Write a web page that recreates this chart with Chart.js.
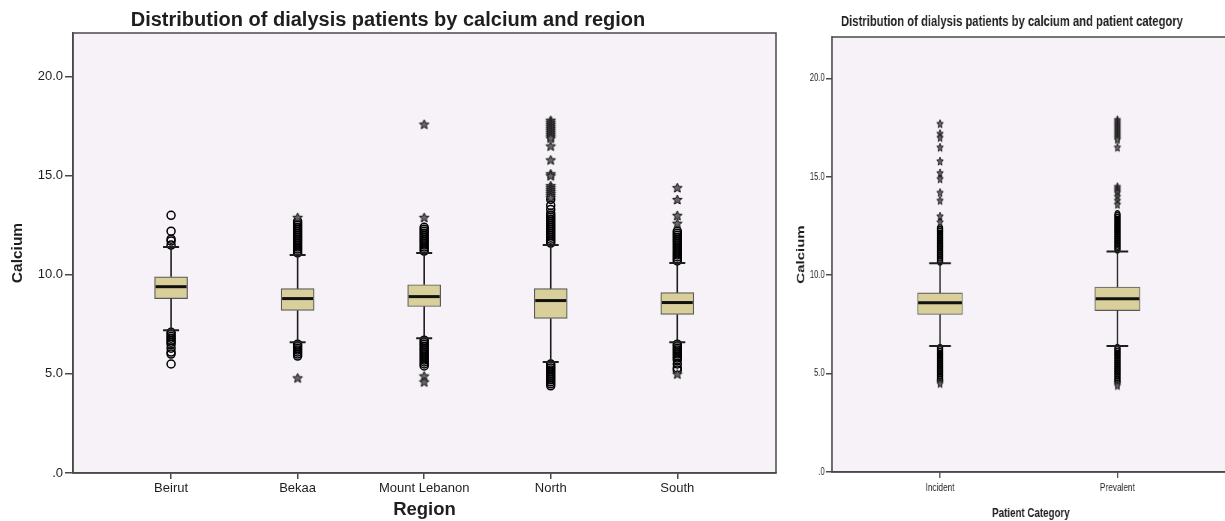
<!DOCTYPE html>
<html><head><meta charset="utf-8">
<script src="https://cdn.jsdelivr.net/npm/chart.js@4.4.1/dist/chart.umd.min.js"></script>
<style>
html,body{margin:0;padding:0;background:#fff;overflow:hidden;width:1225px;height:521px}
#wrapL{position:absolute;left:0;top:0;width:785px;height:521px}
#wrapR{position:absolute;left:790px;top:0;width:592px;height:521px;transform:scaleX(0.75);transform-origin:0 0}
</style></head>
<body>
<div id="wrapL"><canvas id="cReg"></canvas></div>
<div id="wrapR"><canvas id="cCat"></canvas></div>
<script>
// left chart: calcium by region
const regions = ['Beirut','Bekaa','Mount Lebanon','North','South'];
const regQ1  = [8.8, 8.2, 8.4, 7.8, 8.0];
const regMed = [9.4, 8.8, 8.9, 8.7, 8.6];
const regQ3  = [9.9, 9.3, 9.5, 9.3, 9.1];
const regLo  = [7.2, 6.6, 6.8, 5.6, 6.6];
const regHi  = [11.4, 11.0, 11.1, 11.5, 10.6];
// circles (outliers) and stars (extremes)
const regOut = [
  [13.0,12.2,11.8,11.7,11.5, 7.1,7.0,6.9,6.8,6.7,6.6,6.5,6.3,6.1,6.0,5.5],
  [12.7,12.6,12.5,12.4,12.3,12.2,12.1,12.0,11.9,11.8,11.7,11.6,11.5,11.4,11.3,11.2,11.1, 6.5,6.4,6.3,6.2,6.1,6.0,5.9],
  [12.4,12.3,12.2,12.1,12.0,11.9,11.8,11.7,11.6,11.5,11.4,11.3,11.2, 6.7,6.6,6.5,6.4,6.3,6.2,6.1,6.0,5.9,5.8,5.7,5.6,5.5,5.4],
  [13.8,13.5,13.3,13.1,13.0,12.9,12.8,12.7,12.6,12.5,12.4,12.3,12.2,12.1,12.0,11.9,11.8,11.7,11.6, 5.5,5.4,5.3,5.2,5.1,5.0,4.9,4.8,4.7,4.6,4.5,4.4],
  [12.2,12.1,12.0,11.9,11.8,11.7,11.6,11.5,11.4,11.3,11.2,11.1,11.0,10.9,10.8,10.7, 6.5,6.4,6.3,6.2,6.1,6.0,5.9,5.8,5.7,5.5,5.3,5.2]
];
const regExt = [
  [],
  [12.9, 4.8],
  [17.6, 12.9, 4.9, 4.6],
  [17.8,17.7,17.6,17.5,17.4,17.3,17.2,17.1,17.0,16.9,16.5,15.8,15.1,15.0,14.5,14.4,14.3,14.2,14.1,14.0,13.9],
  [14.4, 13.8, 13.0, 12.6, 5.0]
];

// right chart: calcium by patient category
const cats   = ['Incident','Prevalent'];
const catQ1  = [8.0, 8.2];
const catMed = [8.6, 8.8];
const catQ3  = [9.1, 9.4];
const catLo  = [6.4, 6.4];
const catHi  = [10.6, 11.2];
const catOut = [
  [12.4,12.3,12.2,12.1,12.0,11.9,11.8,11.7,11.6,11.5,11.4,11.3,11.2,11.1,11.0,10.9,10.8,10.7,
   6.3,6.2,6.1,6.0,5.9,5.8,5.7,5.6,5.5,5.4,5.3,5.2,5.1,5.0,4.9,4.8,4.7],
  [13.1,13.0,12.9,12.8,12.7,12.6,12.5,12.4,12.3,12.2,12.1,12.0,11.9,11.8,11.7,11.6,11.5,11.4,11.3,
   6.3,6.2,6.1,6.0,5.9,5.8,5.7,5.6,5.5,5.4,5.3,5.2,5.1,5.0,4.9,4.8,4.7,4.6]
];
const catExt = [
  [17.7,17.2,17.0,16.5,15.8,15.2,14.9,14.2,13.8,13.0,12.7, 4.6,4.5],
  [17.9,17.8,17.7,17.6,17.5,17.4,17.3,17.2,17.1,17.0,16.9,16.5,14.5,14.4,14.3,14.2,14.0,13.8,13.6, 4.5,4.4]
];
const yTicks = [0, 5, 10, 15, 20];

const C = { bg:'#f6f2f7', box:'#d8cf9b', boxLine:'#5a5a5a', ink:'#1e1e1e', axis:'#4a4a4a',
  font:"Arial, 'Liberation Sans', sans-serif" };
Chart.defaults.font.family = C.font;
Chart.defaults.color = C.ink;

function starImg(r, lw){
  const n = Math.ceil(r*2+3), c = document.createElement('canvas');
  c.width = c.height = n;
  const g = c.getContext('2d');
  g.translate(n/2, n/2+0.5); g.beginPath();
  for (let k=0;k<10;k++){
    const rad = k%2 ? r*0.45 : r, a = -Math.PI/2 + k*Math.PI/5;
    g.lineTo(rad*Math.cos(a), rad*Math.sin(a));
  }
  g.closePath(); g.fillStyle='#666'; g.fill();
  g.strokeStyle='#111'; g.lineWidth=lw; g.stroke();
  return c;
}

const pts = (vals) => vals.flatMap((arr,i)=>arr.map(v=>({x:i+1,y:v})));

// plot background + frame
const framePlugin = {
  id:'frame',
  beforeDraw(c){
    const {ctx, chartArea:a} = c;
    ctx.save(); ctx.fillStyle = C.bg;
    ctx.fillRect(a.left, a.top, a.right-a.left, a.bottom-a.top); ctx.restore();
  },
  afterDraw(c){
    const {ctx, chartArea:a} = c;
    ctx.save(); ctx.strokeStyle = C.axis; ctx.lineWidth = 1.5;
    ctx.strokeRect(a.left, a.top, a.right-a.left, a.bottom-a.top); ctx.restore();
  }
};

// whiskers, caps and medians
function boxPlugin(q1, med, q3, lo, hi, boxW, capW){
  return {
    id:'whisk',
    afterDatasetsDraw(c){
      const {ctx, scales:{x,y}} = c;
      ctx.save();
      q1.forEach((v,i)=>{
        const px = x.getPixelForValue(i+1);
        ctx.strokeStyle = C.ink; ctx.lineWidth = 1.6;
        ctx.beginPath();
        ctx.moveTo(px, y.getPixelForValue(q3[i])); ctx.lineTo(px, y.getPixelForValue(hi[i]));
        ctx.moveTo(px, y.getPixelForValue(v)); ctx.lineTo(px, y.getPixelForValue(lo[i]));
        ctx.stroke();
        ctx.lineWidth = 2; ctx.beginPath();
        [hi[i], lo[i]].forEach(w=>{ const py = y.getPixelForValue(w);
          ctx.moveTo(px-capW/2, py); ctx.lineTo(px+capW/2, py); });
        ctx.stroke();
        ctx.lineWidth = 3; ctx.strokeStyle = '#111'; ctx.beginPath();
        const pm = y.getPixelForValue(med[i]);
        ctx.moveTo(px-boxW/2+1, pm); ctx.lineTo(px+boxW/2-1, pm); ctx.stroke();
      });
      ctx.restore();
    }
  };
}

function boxChart(id, o){
  new Chart(document.getElementById(id), {
    type:'scatter',
    data:{datasets:[
      {type:'bar', data:o.q1.map((v,i)=>({x:i+1, y:[v, o.q3[i]]})), backgroundColor:C.box,
       borderColor:C.boxLine, borderWidth:1.2, borderSkipped:false, barThickness:o.boxW, grouped:false, order:2},
      {data:pts(o.out), pointStyle:'circle', radius:o.r, borderColor:'#000', borderWidth:1.5,
       backgroundColor:'rgba(0,0,0,0)', order:1},
      {data:pts(o.ext), pointStyle:starImg(o.r+1, 1), order:0}
    ]},
    options:{
      responsive:true, maintainAspectRatio:false, animation:false,
      layout:{padding:o.pad},
      plugins:{
        legend:{display:false}, tooltip:{enabled:false},
        title:{display:true, text:o.title, color:C.ink, font:{size:o.titleSize, weight:'bold'}, padding:o.titlePad}
      },
      scales:{
        x:{type:'linear', min:o.xMin, max:o.xMax, offset:false,
           afterBuildTicks:s=>{ s.ticks = o.labels.map((_,i)=>({value:i+1})); },
           afterFit:s=>{ s.height = o.xH; },
           grid:{drawOnChartArea:false, offset:false, tickLength:6, color:C.axis, lineWidth:1.5},
           border:{color:C.axis, width:1.5},
           ticks:{autoSkip:false, maxRotation:0, padding:o.xPad, color:C.ink, font:{size:o.tickSize},
                  callback:v=>o.labels[v-1]},
           title:{display:true, text:o.xTitle, color:C.ink, font:{size:o.xTitleSize, weight:'bold'}, padding:{top:0,bottom:0}}},
        y:{min:0, max:o.yMax,
           afterBuildTicks:s=>{ s.ticks = yTicks.map(v=>({value:v})); },
           afterFit:s=>{ s.width = o.yW; },
           grid:{drawOnChartArea:false, offset:false, tickLength:8, color:C.axis, lineWidth:1.5},
           border:{color:C.axis, width:1.5},
           ticks:{padding:2, color:C.ink, font:{size:o.ySize}, callback:v=>v===0?'.0':v.toFixed(1)},
           title:{display:true, text:'Calcium', color:C.ink, font:{size:o.yTitleSize, weight:'bold'}, padding:{top:o.yTitlePad,bottom:0}}}
      }
    },
    plugins:[framePlugin, boxPlugin(o.q1, o.med, o.q3, o.lo, o.hi, o.boxW, o.capW)]
  });
}

boxChart('cReg', {
  labels:regions, q1:regQ1, med:regMed, q3:regQ3, lo:regLo, hi:regHi, out:regOut, ext:regExt,
  title:'Distribution of dialysis patients by calcium and region', titleSize:20, titlePad:{top:8,bottom:1},
  xTitle:'Region', xTitleSize:18.5, tickSize:13, ySize:13, yTitleSize:15.5, yTitlePad:8,
  pad:{left:0,right:9,top:0,bottom:0}, xMin:0.225, xMax:5.78, yMax:22.2, xH:48, xPad:2, yW:73,
  boxW:33, capW:16, r:4
});

boxChart('cCat', {
  labels:cats, q1:catQ1, med:catMed, q3:catQ3, lo:catLo, hi:catHi, out:catOut, ext:catExt,
  title:'Distribution of dialysis patients by calcium and patient category', titleSize:15, titlePad:{top:13,bottom:6},
  xTitle:'Patient Category', xTitleSize:13, tickSize:11, ySize:10, yTitleSize:15, yTitlePad:6,
  pad:{left:0,right:0,top:0,bottom:0}, xMin:0.391, xMax:2.634, yMax:22.1, xH:49, xPad:3, yW:56,
  boxW:60, capW:29, r:3.5
});
</script>
</body></html>
